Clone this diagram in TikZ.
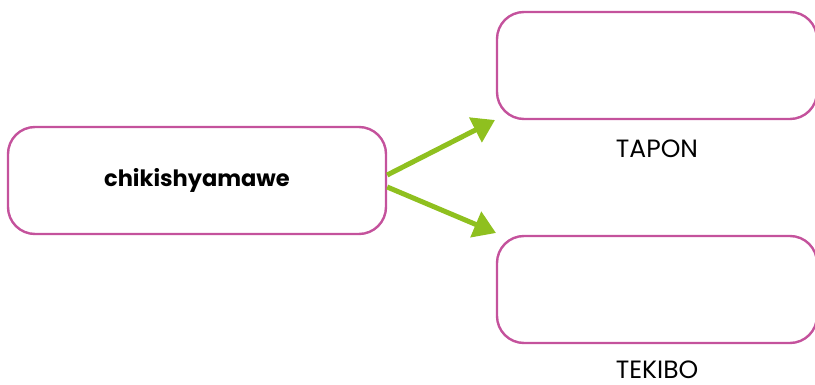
\documentclass[tikz,border=0pt]{standalone}
\usepackage{fontspec}
\setmainfont{Poppins}
\usetikzlibrary{arrows.meta}
\definecolor{boxpink}{RGB}{196,82,156}
\definecolor{arrgreen}{RGB}{143,192,31}
\tikzset{
  box/.style={draw=boxpink, line width=2.4pt, rounded corners=27pt, minimum width=#1, minimum height=107pt, inner sep=0pt},
  conn/.style={draw=arrgreen, line width=5pt, -{Triangle[length=22pt,width=27pt]}, shorten >=0pt},
  lbl/.style={font=\fontsize{25}{28}\selectfont, text=black, anchor=base, inner sep=0pt}
}
\begin{document}
\begin{tikzpicture}[x=1pt,y=-1pt]
\useasboundingbox (0,0) rectangle (815,385);
\node[box=378pt, font=\fontsize{22.5}{26}\selectfont\bfseries] (a) at (197,180.5) {chikishyamawe};
\node[box=320pt] (b) at (657,65.5) {};
\node[box=320pt] (c) at (657,289.5) {};
\node[lbl] (lb) at (657,158) {TAPON};
\node[lbl] (lc) at (657,378) {TEKIBO};
\coordinate (t1) at (495,120);
\coordinate (t2) at (496,233);
\draw[conn] ([yshift=5.5pt]a.east) -- (t1);
\draw[conn] ([yshift=-6.5pt]a.east) -- (t2);
\end{tikzpicture}
\end{document}
